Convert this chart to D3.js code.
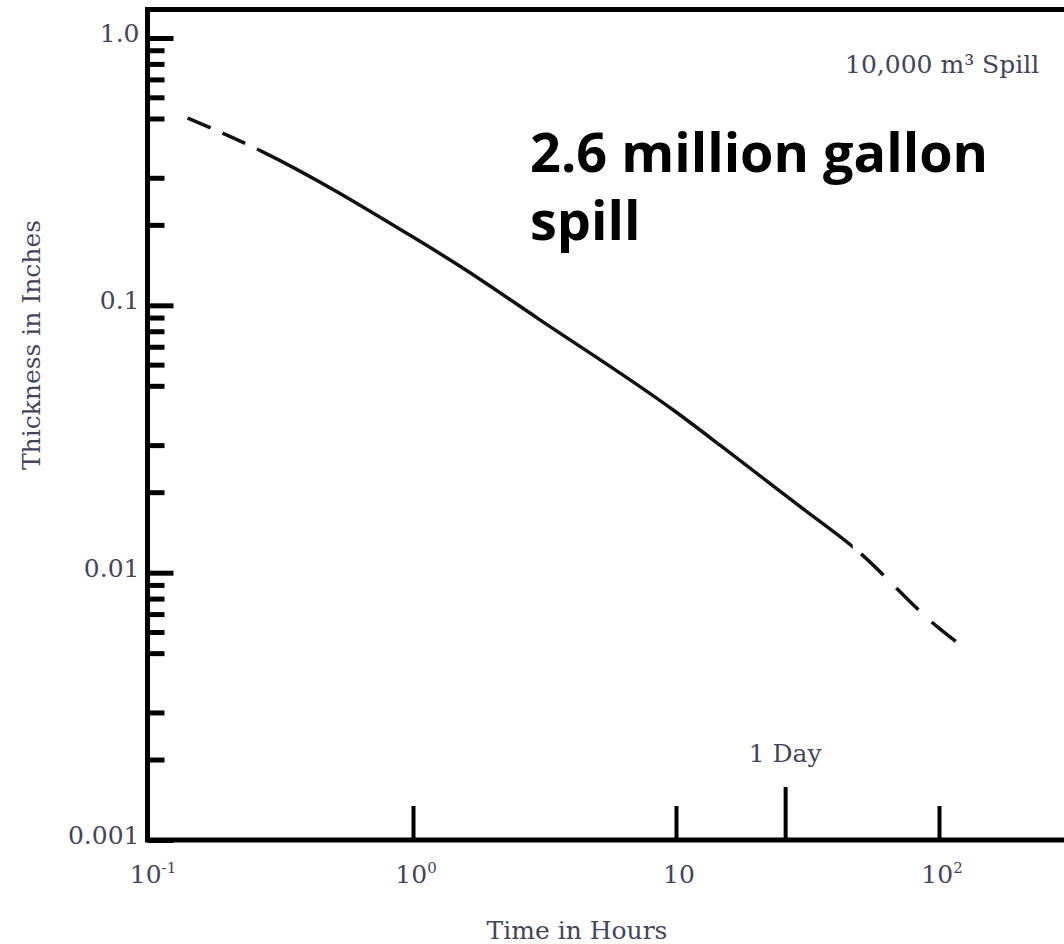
<!DOCTYPE html>
<html>
<head>
<meta charset="utf-8">
<script src="https://cdn.jsdelivr.net/npm/d3@7"></script>
<style>
  html, body { margin: 0; padding: 0; background: #fff; }
  .scan { font-family: "DejaVu Serif", serif; fill: #44445a; }
</style>
</head>
<body>
<div id="chart"></div>
<script>
// Datos (espesor de la mancha vs tiempo)
const timeHours = [0.139, 0.26, 1.0, 1.51, 3.0, 10, 14.7, 30, 47, 100, 118];
const thicknessIn = [0.502, 0.381, 0.180, 0.140, 0.089, 0.0399, 0.030, 0.0175, 0.0125, 0.0062, 0.00545];
const solidFrom = 0.26;   // tramo continuo
const solidTo = 47;

const xMajorTicks = [1, 10, 100];
const xLabelValues = [0.1, 1, 10, 100];
const xLabelBase = ["10", "10", "10", "10"];
const xLabelExp = ["-1", "0", "", "2"];
const dayHours = 26;      // marca "1 Day" tal como aparece
const dayLabel = "1 Day";

const yMajorTicks = [1, 0.1, 0.01, 0.001];
const yTickLabels = ["1.0", "0.1", "0.01", "0.001"];
const yMinorFactors = [2, 3, 5, 6, 7, 8, 9];

const xTitle = "Time in Hours";
const yTitle = "Thickness in Inches";
const spillNote = "10,000 m³ Spill";
const bigNote = ["2.6 million gallon", "spill"];

// Configuracion
const width = 1064;
const height = 944;

const svg = d3.select("#chart")
    .append("svg")
    .attr("width", width)
    .attr("height", height);

const x = d3.scaleLog().domain([0.1, 100]).range([150, 939]);
const y = d3.scaleLog().domain([1, 0.001]).range([38, 840]);

const left = x(0.1) - 2.5;
const bottom = y(0.001);

// Marco
svg.append("path")
    .attr("d", `M${width + 20},9.5 H${left} V${bottom} H${width + 20}`)
    .attr("fill", "none")
    .attr("stroke", "#000")
    .attr("stroke-width", 5);

// Ticks del eje Y
const yMinor = [];
yMajorTicks.slice(1).forEach(v => yMinorFactors.forEach(f => yMinor.push(v * f)));

svg.append("g")
    .attr("transform", `translate(${left},0)`)
    .call(d3.axisLeft(y).tickValues(yMajorTicks).tickSize(-26).tickFormat(""))
    .call(g => g.select(".domain").remove())
    .call(g => g.selectAll("line").attr("stroke", "#000").attr("stroke-width", 5));

svg.append("g")
    .attr("transform", `translate(${left},0)`)
    .call(d3.axisLeft(y).tickValues(yMinor).tickSize(-17).tickFormat(""))
    .call(g => g.select(".domain").remove())
    .call(g => g.selectAll("line").attr("stroke", "#000").attr("stroke-width", 5));

svg.selectAll(".ylab")
    .data(yMajorTicks)
    .enter()
    .append("text")
    .attr("class", "scan ylab")
    .attr("x", left - 8)
    .attr("y", d => y(d) + 4)
    .attr("text-anchor", "end")
    .style("font-size", "25px")
    .text((d, i) => yTickLabels[i]);

// Ticks del eje X
svg.append("g")
    .attr("transform", `translate(0,${bottom})`)
    .call(d3.axisBottom(x).tickValues(xMajorTicks).tickSize(-34).tickFormat(""))
    .call(g => g.select(".domain").remove())
    .call(g => g.selectAll("line").attr("stroke", "#000").attr("stroke-width", 4));

svg.append("g")
    .attr("transform", `translate(0,${bottom})`)
    .call(d3.axisBottom(x).tickValues([dayHours]).tickSize(-53).tickFormat(""))
    .call(g => g.select(".domain").remove())
    .call(g => g.selectAll("line").attr("stroke", "#000").attr("stroke-width", 4));

const xl = svg.selectAll(".xlab")
    .data(xLabelValues)
    .enter()
    .append("text")
    .attr("class", "scan xlab")
    .attr("x", d => x(d) + 3)
    .attr("y", bottom + 43)
    .attr("text-anchor", "middle")
    .style("font-size", "25px");
xl.append("tspan").text((d, i) => xLabelBase[i]);
xl.append("tspan")
    .attr("dy", -10)
    .style("font-size", "15px")
    .text((d, i) => xLabelExp[i]);

svg.append("text")
    .attr("class", "scan")
    .attr("x", x(dayHours))
    .attr("y", 762)
    .attr("text-anchor", "middle")
    .style("font-size", "25px")
    .text(dayLabel);

// Titulos
svg.append("text")
    .attr("class", "scan")
    .attr("x", 577)
    .attr("y", 939)
    .attr("text-anchor", "middle")
    .style("font-size", "25px")
    .text(xTitle);

svg.append("text")
    .attr("class", "scan")
    .attr("transform", "translate(40,345) rotate(-90)")
    .attr("text-anchor", "middle")
    .style("font-size", "25px")
    .text(yTitle);

svg.append("text")
    .attr("class", "scan")
    .attr("x", 845)
    .attr("y", 73)
    .style("font-size", "25px")
    .text(spillNote);

// Nota grande
svg.append("text")
    .attr("x", 530)
    .attr("y", 172)
    .style("font-family", "'Open Sans', sans-serif")
    .style("font-weight", "bold")
    .style("font-size", "54px")
    .style("fill", "#000")
    .selectAll("tspan")
    .data(bigNote)
    .enter()
    .append("tspan")
    .attr("x", 530)
    .attr("dy", (d, i) => i === 0 ? 0 : 68)
    .text(d => d);

// Curva: una sola linea suave, recortada en tramos discontinuos / continuo
const pts = timeHours.map((t, i) => ({ t: t, v: thicknessIn[i] }));
const line = d3.line()
    .x(d => x(d.t))
    .y(d => y(d.v))
    .curve(d3.curveMonotoneX);

const defs = svg.append("defs");
const clips = [
    { id: "c0", x0: 0, x1: x(solidFrom), dash: "25,13" },
    { id: "c1", x0: x(solidFrom), x1: x(solidTo), dash: null },
    { id: "c2", x0: x(solidTo), x1: width, dash: "31,18" }
];
defs.selectAll("clipPath")
    .data(clips)
    .enter()
    .append("clipPath")
    .attr("id", d => d.id)
    .append("rect")
    .attr("x", d => d.x0)
    .attr("y", 0)
    .attr("width", d => d.x1 - d.x0)
    .attr("height", height);

const curves = svg.selectAll(".curve")
    .data(clips)
    .enter()
    .append("path")
    .attr("class", "curve")
    .attr("clip-path", d => `url(#${d.id})`)
    .attr("d", line(pts))
    .attr("fill", "none")
    .attr("stroke", "#111")
    .attr("stroke-width", 3.5)
    .attr("stroke-dasharray", d => d.dash);

// el tramo final empieza con un hueco justo donde acaba la linea continua
const node = curves.nodes()[2];
const total = node.getTotalLength();
let lo = 0, hi = total;
const xEnd = x(solidTo);
for (let k = 0; k < 40; k++) {
    const mid = (lo + hi) / 2;
    if (node.getPointAtLength(mid).x < xEnd) lo = mid; else hi = mid;
}
d3.select(node).attr("stroke-dashoffset", -(lo + 11));
</script>
</body>
</html>
